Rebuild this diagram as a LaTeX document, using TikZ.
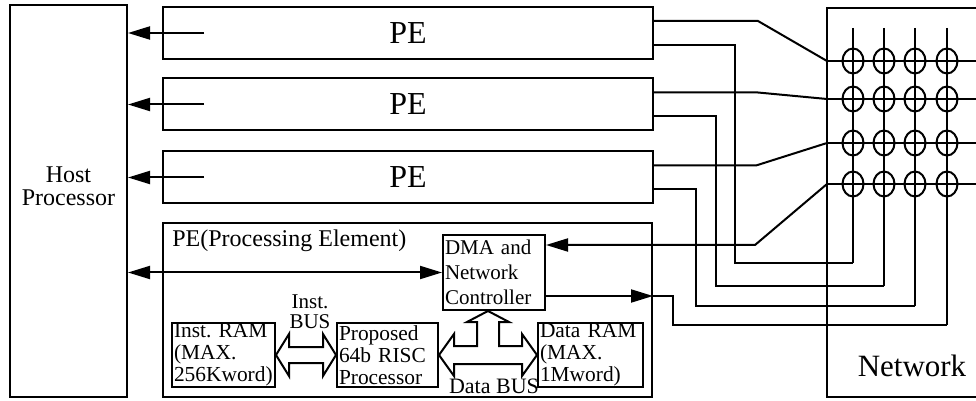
\documentclass[tikz,border=0pt]{standalone}
\usepackage{fontspec}
\setmainfont{Liberation Serif}
\usetikzlibrary{shapes.geometric, arrows.meta, calc}
\tikzset{
  blk/.style ={rectangle, draw, line width=1pt, inner sep=1pt},
  blkt/.style={blk, align=left, inner ysep=0.5pt, font=\fontsize{10.7}{11}\selectfont},
  wr/.style  ={line width=1pt},
  ar/.style  ={wr, -{Triangle[length=11pt,width=6.5pt]}},
  dar/.style ={wr, {Triangle[length=11pt,width=6.5pt]}-{Triangle[length=11pt,width=6.5pt]}},
  fat/.style ={line width=1pt, fill=white},
  xp/.style  ={ellipse, draw, line width=1pt, minimum width=10.5pt, minimum height=12.5pt, inner sep=0pt},
}

\begin{document}
\frenchspacing
\begin{tikzpicture}[x=0.5pt, y=-0.5pt]
\clip (0,0) rectangle (976,401);
% host and processing elements
\node[blk, minimum width=58.5pt, minimum height=196pt] (host) at (68.5,201) {};
\node[align=center, font=\fontsize{12}{11.5}\selectfont] (hostl) at (68.5,186) {Host\\Processor};
\foreach \y [count=\i] in {33,104.5,177.5}
  \node[blk, minimum width=245pt, minimum height=26pt, font=\fontsize{16}{16}\selectfont] (pe\i) at (408,\y) {PE};
\node[blk, minimum width=244.5pt, minimum height=87pt] (pe4) at (407.5,310) {};
\node[anchor=west, inner sep=0pt, font=\fontsize{12}{12}\selectfont] (pel) at (172,241) {PE(Processing Element)};
\node[blkt, minimum width=51pt, minimum height=37.5pt, text width=49pt, font=\fontsize{10.5}{12.5}\selectfont] (dma) at (494,272.5) {DMA and\\Network\\Controller};
\node[blkt, minimum width=51.5pt, minimum height=32pt, text width=49.5pt] (iram) at (223.5,355) {Inst. RAM\\(MAX.\\256Kword)};
\node[blkt, minimum width=50.5pt, minimum height=32pt, text width=48.5pt] (risc) at (387.5,355) {Proposed\\64b RISC\\Processor};
\node[blkt, minimum width=52.5pt, minimum height=32pt, text width=50.5pt] (dram) at (590.5,355) {Data RAM\\(MAX.\\1Mword)};
% network
\node[blk, minimum width=86.5pt, minimum height=194.5pt] (net) at (913.5,202.5) {};
\node[font=\fontsize{15.5}{16}\selectfont] (netl) at (912,366) {Network};
\foreach \ry [count=\i] in {61,99,143,184} {
  \coordinate (r\i) at (827,\ry);
  \draw[wr] (r\i) -- (976,\ry);
}
\foreach \cx/\cy [count=\j] in {853/263,884/286,915/306,947/325} {
  \coordinate (cb\j) at (\cx,\cy);
  \draw[wr] (\cx,28) -- (cb\j);
}
\foreach \ry [count=\i] in {61,99,143,184}
  \foreach \cx [count=\j] in {853,884,915,947}
    \node[xp] (x\i\j) at (\cx,\ry) {};
% links
\foreach \i in {1,2,3}
  \draw[ar] ([xshift=21pt]pe\i.west) -- (host.east |- pe\i.west);
\draw[dar] (host.east |- dma.west) -- (dma.west);
\foreach \i/\a/\b in {1/104/81, 2/104/62, 3/102/42} {
  \draw[wr] ([yshift=6pt]pe\i.east) -- ++(\a,0) -- (r\i);
  \draw[wr] ([yshift=-6pt]pe\i.east) -- ++(\b,0) |- (cb\i);
}
\draw[ar] (r4) -- ++(-72,61) -- ([yshift=13.75pt]dma.east);
\coordinate (dout) at ([yshift=-11.75pt]dma.east);
\draw[ar] (dout) -- (dout -| pe4.east);
\draw[wr] (dout -| pe4.east) -- ++(20,0) |- (cb4);
% buses
\draw[fat] (iram.east) -- ++(13,-21) -- ++(0,13) -- ($(risc.west)+(-13,-8)$) -- ++(0,-13) -- (risc.west)
  -- ++(-13,21) -- ++(0,-13) -- ($(iram.east)+(13,8)$) -- ++(0,13) -- cycle;
\coordinate (dbm) at ($(risc.east)!0.5!(dram.west)$);
\coordinate (dbt) at (dbm |- dma.south);
\draw[fat] (risc.east) -- ++(15,-21) -- ++(0,12) -- ($(dbm)+(-11,-9)$) -- ($(dbt)+(-11,11)$) -- ++(-10,0) -- (dbt)
  -- ++(21,11) -- ++(-10,0) -- ($(dbm)+(11,-9)$) -- ($(dram.west)+(-15,-9)$) -- ++(0,-12) -- (dram.west)
  -- ++(-15,21) -- ++(0,-12) -- ($(risc.east)+(15,9)$) -- ++(0,12) -- cycle;
\node[align=center, font=\fontsize{10.5}{10}\selectfont] (ibus) at (310,312) {Inst.\\BUS};
\node[inner sep=0pt, font=\fontsize{11}{11}\selectfont] (dbus) at (494,386) {Data BUS};
\end{tikzpicture}
\end{document}
